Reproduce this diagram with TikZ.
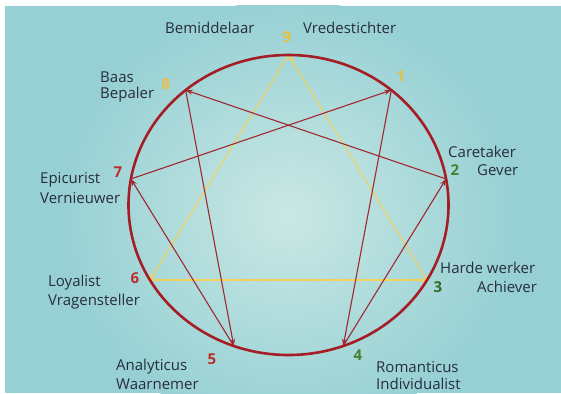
\documentclass[tikz,border=0pt]{standalone}
\usepackage{fontspec}
\setmainfont{Open Sans}
\usetikzlibrary{arrows.meta}
\definecolor{bgout}{RGB}{150,208,212}
\definecolor{bglight}{RGB}{202,232,228}
\definecolor{ringred}{RGB}{165,30,38}
\definecolor{arrred}{RGB}{160,40,48}
\definecolor{yel}{RGB}{242,210,90}
\definecolor{numyel}{RGB}{235,190,65}
\definecolor{numgrn}{RGB}{70,130,50}
\definecolor{numred}{RGB}{190,45,40}
\definecolor{txt}{RGB}{40,45,60}
\tikzset{
  lbl/.style={anchor=west,inner sep=0pt,text=txt,font=\fontsize{15}{17}\selectfont},
  num/.style={inner sep=0pt,font=\fontsize{15}{17}\selectfont\bfseries},
  redarrow/.style={draw=arrred,line width=1.1pt,-{Stealth[length=7pt,width=5pt]}},
  yelarrow/.style={draw=yel,line width=1.1pt,-{Stealth[length=7pt,width=5pt]}},
}
\begin{document}
\begin{tikzpicture}[x=1pt,y=-1pt]
\useasboundingbox (0,0) rectangle (561,393);
\fill[white] (0,0) rectangle (561,393);
\fill[bgout] (5,6) rectangle (561,393);
\begin{scope}
\clip (5,6) rectangle (561,393);
\shade[inner color=bglight,outer color=bgout] (288.5,215) ellipse [x radius=230pt,y radius=215pt];
\end{scope}
\def\cx{288.5}\def\cy{205}\def\rx{160}\def\ry{150}
\foreach \n/\a in {9/90,1/50,2/10,3/-30,4/-70,5/-110,6/-150,7/170,8/130}
  \coordinate (p\n) at ({\cx+\rx*cos(\a)},{\cy-\ry*sin(\a)});
\coordinate (c) at (\cx,\cy);
% yellow triangle
\draw[yelarrow] (p9) -- (p6);
\draw[yelarrow] (p6) -- (p3);
\draw[yelarrow] (p3) -- (p9);
% red hexad
\draw[redarrow] (p1) -- (p4);
\draw[redarrow] (p4) -- (p2);
\draw[redarrow] (p2) -- (p8);
\draw[redarrow] (p8) -- (p5);
\draw[redarrow] (p5) -- (p7);
\draw[redarrow] (p7) -- (p1);
% ring
\draw[ringred,line width=2.6pt] (c) ellipse [x radius=160pt,y radius=150pt];
% numbers
\node[num,text=numyel] (n9) at (287,37) {9};
\node[num,text=numyel] (n1) at (401,76) {1};
\node[num,text=numyel] (n8) at (166,84) {8};
\node[num,text=numgrn] (n2) at (455,170) {2};
\node[num,text=numgrn!80!black] (n3) at (438,287) {3};
\node[num,text=numgrn] (n4) at (358,355) {4};
\node[num,text=numred] (n5) at (212,359) {5};
\node[num,text=numred] (n6) at (135,278) {6};
\node[num,text=numred] (n7) at (118,172) {7};
% labels
\node[lbl] (t9a) at (165,28) {Bemiddelaar};
\node[lbl] (t9b) at (303,28) {Vredestichter};
\node[lbl] (t8a) at (100,77) {Baas};
\node[lbl] (t8b) at (100,95) {Bepaler};
\node[lbl] (t2a) at (448,152) {Caretaker};
\node[lbl] (t2b) at (477,170) {Gever};
\node[lbl] (t3a) at (440,268) {Harde werker};
\node[lbl] (t3b) at (477,287) {Achiever};
\node[lbl] (t4a) at (376,367) {Romanticus};
\node[lbl] (t4b) at (376,384) {Individualist};
\node[lbl] (t5a) at (116,367) {Analyticus};
\node[lbl] (t5b) at (116,384) {Waarnemer};
\node[lbl] (t7a) at (40,180) {Epicurist};
\node[lbl] (t7b) at (40,198) {Vernieuwer};
\node[lbl] (t6a) at (48,283) {Loyalist};
\node[lbl] (t6b) at (48,302) {Vragensteller};
\end{tikzpicture}
\end{document}
